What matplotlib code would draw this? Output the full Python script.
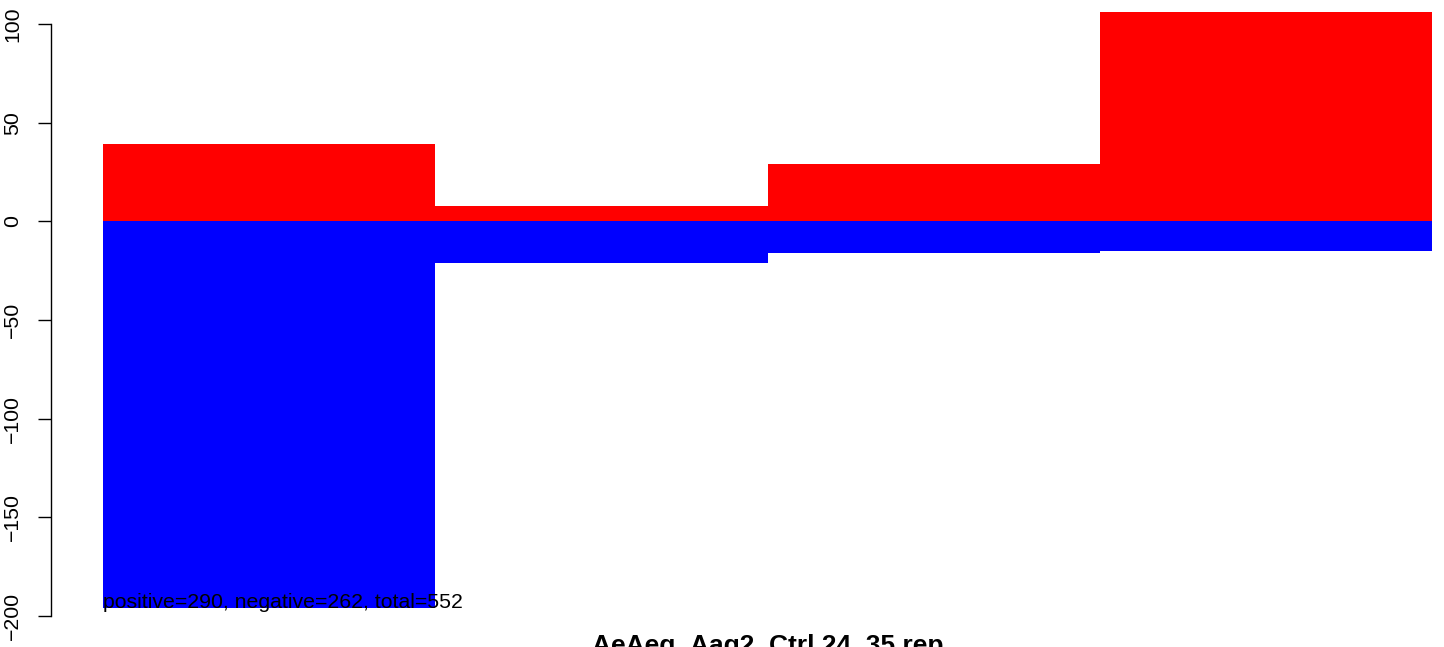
import matplotlib
matplotlib.use("Agg")
import matplotlib.pyplot as plt
import numpy as np

# data
groups = np.arange(4)
positive = [39, 8, 29, 106]
negative = [-196, -21, -16, -15]
note = "positive=290, negative=262, total=552"
title = "AeAeg_Aag2_Ctrl 24_35 rep"

plt.rcParams['font.family'] = ['Liberation Sans', 'DejaVu Sans']

W, H = 1444, 647
fig = plt.figure(figsize=(W / 100, H / 100), dpi=100)

# plot region: bars 0..4 span x px 103..1432, y 100 -> px 24, -200 -> px 616
x0, x1 = 103, 1432
ax = fig.add_axes([x0 / W, 0, (x1 - x0) / W, 1])
ppu = (616 - 24) / 300.0
ax.set_xlim(0, 4)
ax.set_ylim(-200 - (H - 616) / ppu, 100 + 24 / ppu)

ax.bar(groups, positive, width=1, align='edge', color='#ff0000', linewidth=0)
ax.bar(groups, negative, width=1, align='edge', color='#0000ff', linewidth=0)

ax.text(0, -193, note, ha='left', va='center', fontsize=15.3, color='black')

for s in ['top', 'right', 'bottom']:
    ax.spines[s].set_visible(False)
ax.spines['left'].set_position(('outward', (x0 - 50.5) * 72 / 100))
ax.spines['left'].set_bounds(-200, 100)
ax.spines['left'].set_linewidth(1.0)
ax.set_xticks([])
ax.set_yticks([-200, -150, -100, -50, 0, 50, 100])
ax.set_yticklabels(['\u2212200', '\u2212150', '\u2212100', '\u221250', '0', '50', '100'],
                   rotation=90, va='center', fontsize=15.3)
ax.tick_params(axis='y', length=9.4, width=1.0, pad=11)

fig.text((x0 + x1) / 2 / W, (H - 653) / H, title, ha='center', va='baseline',
         fontsize=19, fontweight='bold')

fig.savefig("out.png", dpi=100)
